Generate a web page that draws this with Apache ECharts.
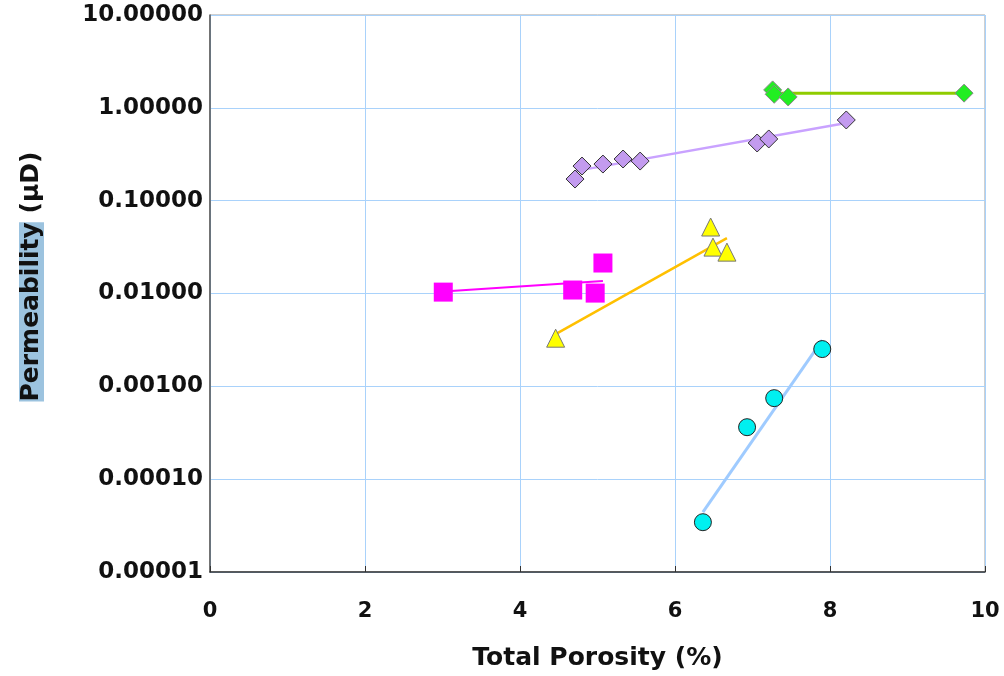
<!DOCTYPE html>
<html>
<head>
<meta charset="utf-8">
<script src="https://cdn.jsdelivr.net/npm/echarts@6/dist/echarts.min.js"></script>
<style>html,body{margin:0;padding:0;background:#fff}#c{width:1004px;height:676px}</style>
</head>
<body>
<div id="c"></div>
<script>
// Tick values
var xTicks = [0, 2, 4, 6, 8, 10];
var yTicks = [0.00001, 0.0001, 0.001, 0.01, 0.1, 1, 10];

// Sample groups: [porosity %, permeability µD]
var greenPts   = [[7.26, 1.56], [7.28, 1.40], [7.46, 1.31], [9.73, 1.44]];
var purplePts  = [[4.71, 0.171], [4.80, 0.236], [5.07, 0.248], [5.33, 0.281], [5.55, 0.267], [7.06, 0.418], [7.21, 0.462], [8.21, 0.740]];
var magentaPts = [[3.01, 0.01035], [4.68, 0.0109], [4.97, 0.0101], [5.07, 0.0213]];
var yellowPts  = [[4.46, 0.0033], [6.46, 0.052], [6.49, 0.0316], [6.67, 0.0279]];
var cyanPts    = [[6.36, 0.0000344], [6.93, 0.000363], [7.28, 0.000746], [7.90, 0.00252]];

// Trend lines (end points)
var greenTrend   = [[7.26, 1.44], [9.73, 1.44]];
var purpleTrend  = [[4.71, 0.208], [8.21, 0.685]];
var magentaTrend = [[3.01, 0.0105], [5.07, 0.0136]];
var yellowTrend  = [[4.46, 0.00365], [6.67, 0.0395]];
var cyanTrend    = [[6.36, 0.0000441], [7.90, 0.00315]];

var FONT = 'DejaVu Sans';
var chart = echarts.init(document.getElementById('c'), null, {renderer: 'canvas'});

function trend(data, color, width) {
  return {type: 'line', data: data, symbol: 'none', z: 2, silent: true,
    lineStyle: {color: color, width: width}, animation: false};
}
function pts(data, symbol, size, color, border, bw) {
  return {type: 'scatter', data: data, symbol: symbol, symbolSize: size, z: 3,
    itemStyle: {color: color, borderColor: border, borderWidth: bw, opacity: 1}, animation: false};
}

chart.setOption({
  animation: false,
  backgroundColor: '#ffffff',
  grid: {left: 210, right: 19, top: 15, bottom: 104, containLabel: false, outerBoundsMode: 'none',
    show: true, borderColor: '#a0a0a0', borderWidth: 1, backgroundColor: 'transparent'},
  xAxis: {
    type: 'value', min: xTicks[0], max: xTicks[xTicks.length - 1], interval: 2,
    name: 'Total Porosity (%)', nameLocation: 'middle', nameGap: 74,
    nameTextStyle: {fontFamily: FONT, fontWeight: 'bold', fontSize: 25, color: '#111'},
    axisLine: {lineStyle: {color: '#333', width: 1.5}},
    axisTick: {show: true, inside: true, length: 6, lineStyle: {color: '#333'}},
    axisLabel: {fontFamily: FONT, fontWeight: 'bold', fontSize: 21, color: '#111', margin: 29},
    splitLine: {show: true, lineStyle: {color: '#a9d2fb', width: 1}}
  },
  yAxis: {
    type: 'log', logBase: 10, min: yTicks[0], max: yTicks[yTicks.length - 1],
    name: '{hl|Permeability} (µD)', nameLocation: 'middle', nameGap: 166,
    nameTextStyle: {fontFamily: FONT, fontWeight: 'bold', fontSize: 25, color: '#111', padding: [0, 0, 0, 34],
      rich: {hl: {fontFamily: FONT, fontWeight: 'bold', fontSize: 25, color: '#111', backgroundColor: '#9cc3df'}}},
    axisLine: {show: true, lineStyle: {color: '#555', width: 1.5}},
    axisTick: {show: false},
    axisLabel: {fontFamily: FONT, fontWeight: 'bold', fontSize: 23, color: '#111', margin: 7,
      formatter: function (v) { return Number(v).toFixed(5); }},
    splitLine: {show: true, lineStyle: {color: '#a9d2fb', width: 1}}
  },
  series: [
    trend(greenTrend, '#8fcc00', 3),
    trend(purpleTrend, '#c9a2ff', 2.5),
    trend(magentaTrend, '#ff00ff', 2),
    trend(yellowTrend, '#ffc000', 2.5),
    trend(cyanTrend, '#9fcbff', 3),
    pts(greenPts, 'diamond', 18, '#22ee22', '#888', 1),
    pts(purplePts, 'diamond', 18, '#c39bef', '#333', 1),
    pts(magentaPts, 'rect', 19, '#ff00ff', '#ff00ff', 0),
    pts(yellowPts, 'triangle', 18, '#ffff00', '#777', 1),
    pts(cyanPts, 'circle', 17, '#00f0f0', '#222', 1)
  ]
});
</script>
</body>
</html>
